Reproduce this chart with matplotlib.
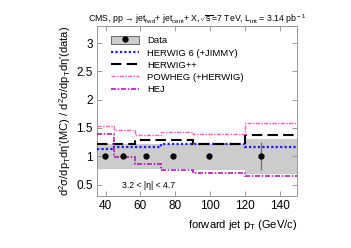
import matplotlib

matplotlib.use("Agg")
import matplotlib.pyplot as plt
from matplotlib.patches import Patch
from matplotlib.lines import Line2D
from matplotlib.legend_handler import HandlerTuple

plt.rcParams["font.family"] = ["Liberation Sans", "DejaVu Sans"]
plt.rcParams["mathtext.fontset"] = "custom"
plt.rcParams["mathtext.rm"] = "Liberation Sans"
plt.rcParams["mathtext.it"] = "Liberation Sans:italic"

# bin edges in forward jet pT (GeV/c)
edges = [35, 45, 57, 72, 90, 120, 150]

# data points (ratio = 1 by construction)
data_x = [39.6, 50, 63, 78.5, 99.7, 129.6]
data_y = [1, 1, 1, 1, 1, 1]
data_err = [0.01, 0.01, 0.01, 0.01, 0.05, 0.25]

# systematic band
band_lo = [0.77, 0.78, 0.78, 0.78, 0.76, 0.69]
band_hi = [1.22, 1.22, 1.22, 1.22, 1.22, 1.31]

# MC / data ratios
herwig6 = [1.12, 1.16, 1.16, 1.21, 1.21, 1.16]
herwigpp = [1.21, 1.21, 1.28, 1.28, 1.21, 1.37]
powheg = [1.53, 1.46, 1.38, 1.42, 1.40, 1.59]
hej = [1.40, 0.99, 0.87, 0.75, 0.71, 0.65]

BLUE, PINK, PURPLE = "#1a1aff", "#ff5ab8", "#b01cb0"
LS_BLUE = (0, (1, 1))
LS_BLACK = (0, (5, 2.5))
LS_DD = (0, (3, 1, 1, 1))

fig = plt.figure(figsize=(3.51, 2.48), dpi=100)
ax = fig.add_axes([0.276, 0.21, 0.57, 0.685])

ax.stairs(band_hi, edges, baseline=band_lo, fill=True, color="#cccccc", zorder=1)

ax.stairs(herwig6, edges, baseline=None, color=BLUE, lw=1.6, ls=LS_BLUE, zorder=3)
ax.stairs(herwigpp, edges, baseline=None, color="black", lw=1.5, ls=LS_BLACK, zorder=3)
ax.stairs(powheg, edges, baseline=None, color=PINK, lw=1.0, ls=LS_DD, zorder=3)
ax.stairs(hej, edges, baseline=None, color=PURPLE, lw=1.2, ls=LS_DD, zorder=3)

ax.errorbar(data_x, data_y, yerr=data_err, fmt="o", color="black", ms=3.5,
            ecolor="#777777", elinewidth=1.0, capsize=0, zorder=4)

ax.set_xlim(35, 150)
ax.set_ylim(0.3, 3.3)
ax.set_xticks([40, 60, 80, 100, 120, 140])
ax.set_yticks([0.5, 1, 1.5, 2, 2.5, 3])
ax.set_yticklabels(["0.5", "1", "1.5", "2", "2.5", "3"])
ax.tick_params(direction="in", length=3.5, width=0.6, labelsize=8.5,
               top=True, right=True, pad=3, color="#888888")
for s in ax.spines.values():
    s.set_linewidth(0.6)
    s.set_color("#888888")

ax.set_ylabel(r"d$^2$σ/dp$_{\rm T}$dη'(MC) / d$^2$σ/dp$_{\rm T}$dη'(data)",
              fontsize=8, labelpad=2)
ax.set_xlabel(r"forward jet p$_{\rm T}$ (GeV/c)", fontsize=8, loc="right", labelpad=4)
ax.set_title(r"CMS, pp → jet$_{\rm fwd}$+ jet$_{\rm cent}$+ X,$\sqrt{\rm s}$=7 TeV, L$_{\rm int}$ = 3.14 pb$^{\rm -1}$",
             fontsize=6.3, pad=3)

ax.text(64.5, 0.48, "3.2 < |η| < 4.7", fontsize=6.3, ha="center", va="center")

handles = [
    (Patch(facecolor="#cccccc", edgecolor="#555555", lw=0.6),
     Line2D([], [], marker="o", color="black", ls="none", ms=3.5)),
    Line2D([], [], color=BLUE, lw=1.6, ls=LS_BLUE),
    Line2D([], [], color="black", lw=1.5, ls=LS_BLACK),
    Line2D([], [], color=PINK, lw=1.0, ls=LS_DD),
    Line2D([], [], color=PURPLE, lw=1.2, ls=LS_DD),
]
labels = ["Data", "HERWIG 6 (+JIMMY)", "HERWIG++", "POWHEG (+HERWIG)", "HEJ"]
ax.legend(handles, labels, loc="upper left", bbox_to_anchor=(0.05, 0.965),
          frameon=False, fontsize=6.8, handlelength=3.0, handleheight=1.0,
          handletextpad=0.9, labelspacing=0.3, borderaxespad=0,
          handler_map={tuple: HandlerTuple(ndivide=1)})

fig.savefig("out.png", dpi=100, facecolor="white")
